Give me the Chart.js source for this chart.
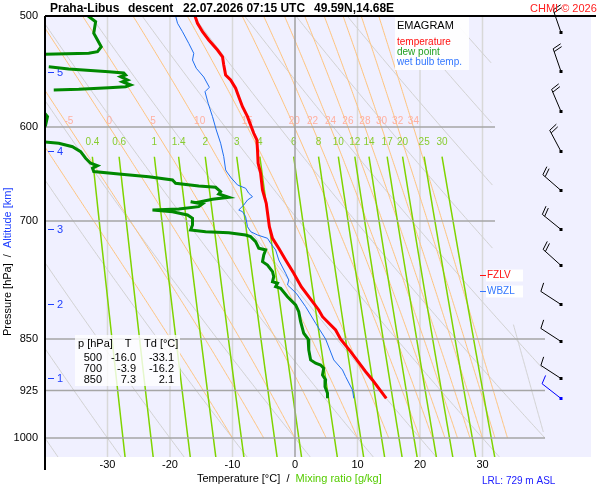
<!DOCTYPE html>
<html>
<head>
<meta charset="utf-8">
<script src="https://cdn.jsdelivr.net/npm/chart.js@4.4.1/dist/chart.umd.min.js"></script>
<style>
  html, body { margin: 0; padding: 0; background: #fff; }
  canvas { display: block; }
</style>
</head>
<body>
<canvas id="emagram" width="600" height="500"></canvas>
<script>
// descent sounding: pressure [hPa] and temperature [°C]
const tempP = [500, 506, 513.1, 520.1, 528.7, 534.6, 541.9, 550.9, 555.4, 563, 570.9, 580.3, 589.9, 598, 606.2, 612.9, 623.1, 636.8, 647.3, 665.4, 680, 706.7, 720.3, 732.2, 746.4, 762.9, 779.9, 799.3, 810.3, 819.3, 837.3, 850, 867.7, 896.7, 909, 936.8];
const tempT = [-16.0, -15.6, -14.8, -13.8, -12.4, -11.6, -11.4, -11.1, -10.3, -9.5, -9.0, -8.4, -7.6, -7.1, -6.6, -6.1, -6.0, -5.9, -5.5, -5.2, -4.6, -4.1, -3.6, -2.6, -1.5, -0.2, 1.0, 2.8, 3.8, 4.4, 6.5, 7.3, 8.9, 11.3, 12.4, 14.6];

const wetP = [500, 506, 513.1, 523, 531.6, 537.5, 544.8, 552.7, 562.1, 566.2, 577, 589.9, 602.9, 616.2, 629.9, 643.8, 646, 652.4, 659.9, 663.5, 669, 672.7, 676.4, 682, 687.6, 689.5, 695.2, 706.7, 712.5, 716.4, 720.3, 726.2, 734.2, 746.4, 762.9, 771.3, 777.7, 788.4, 805.9, 828.2, 850, 879.6, 894.2, 904.1, 924.1, 936.8];
const wetT = [-19.1, -18.8, -18.0, -17.0, -16.2, -16.4, -15.8, -14.6, -13.7, -14.4, -13.9, -13.2, -12.6, -11.9, -11.4, -11.1, -10.9, -10.2, -9.2, -7.9, -7.4, -6.8, -7.6, -8.2, -9.0, -8.4, -7.9, -7.6, -7.1, -6.0, -4.4, -3.9, -3.1, -2.6, -1.5, -1.0, -1.2, 0.2, 1.7, 3.3, 4.9, 6.2, 7.6, 8.1, 9.2, 9.4];

// null = no dew point drawn (too dry, off the diagram)
const dewP = [500, 504.7, 514.4, 520.1, 525.9, 530.2, 531.6, 532.5, 532.7, 537,
  543.4, 545.5, 547.9, 549.1, 550.9, 552.4, 555.4, 557, 560, 561.6, 562.5, 564, 564.6, 575,
  583.4, 589.9, 598, 606.2, 610,
  614.6, 616.2, 619.7, 624.8, 631.6, 636.8, 639.3, 642, 645.6, 648.1, 651, 654.5, 658.1, 661, 662.4,
  667.3, 669.8, 673.4, 675.6, 679.4, 678.3, 680.8, 683.8, 686.4, 687.6, 689.5, 693.2, 697, 704.7, 710.5,
  712.5, 713.7, 716.4, 718.4, 724.3, 732.2, 734.2, 740.3, 748.5, 752.6, 760.9, 767.2, 773.5, 775.5, 779.9,
  782, 792.8, 803.6, 812.6, 826, 841.9, 850, 865.3, 879.6, 884.4, 886.9, 891.7, 901.6, 909, 919.1, 929, 936.8];
const dewT = [-33.1, -31.9, -32.2, -31.6, -31.0, -31.6, -33.0, -40.0, -44, null,
  -39.4, -36.2, -29.8, -27.4, -27.1, -27.9, -26.8, -27.6, -26.3, -27.1, -29.8, -34.6, -38.6, null,
  -40.5, -39.6, -39.9, -40.5, null,
  -40.5, -37.8, -35.6, -34.3, -33.5, -32.7, -31.6, -32.4, -32.2, -28.2, -23.4, -19.6, -19.1, -15.4, -12.7,
  -11.9, -12.2, -10.6, -13.2, -15.9, -16.7, -14.8, -15.4, -18.6, -22.8, -19.6, -17.2, -16.4, -16.4, -16.7,
  -14.3, -10.6, -7.9, -7.1, -6.3, -5.8, -4.7, -5.0, -5.2, -4.4, -3.6, -3.4, -3.6, -2.8, -3.1,
  -2.3, -1.2, 0.1, 0.6, 0.9, 1.4, 2.1, 2.2, 2.5, 3.3, 4.1, 4.6, 4.4, 4.9, 4.8, 5.2, 5.2];

// wind: level [hPa], direction [deg], speed [kt]; last one is the surface (blue)
const windP = [513, 547, 584, 624, 665, 709, 753, 802, 853, 906, 937];
const windDir = [341, 341, 337, 332, 311, 309, 312, 303, 303, 303, 308];
const windKt = [20, 20, 20, 20, 20, 20, 20, 10, 10, 10, 10];

const tableP = [500, 700, 850];
const tableT = [-16.0, -3.9, 7.3];
const tableTd = [-33.1, -16.2, 2.1];

const altKm = [1, 2, 3, 4, 5];
const altP = [906, 802, 709, 624, 548];

const fzlvP = 765;
const wbzlP = 786;

// axes and diagram lines
const xTicks = [-30, -20, -10, 0, 10, 20, 30];
const yTicks = [500, 600, 700, 850, 925, 1000];
const isotherms = [-30, -20, -10, 10, 20, 30];
const isobars = [600, 700, 850, 925, 1000];
const dryTheta = [-40, -30, -20, -10, 0, 10, 20, 30, 40, 50, 60, 70, 80, 90, 100];
const moistThetaW = [-10, -5, 0, 5, 10, 15, 20, 22, 24, 26, 28, 30, 32, 34];
const mixRatio = [0.4, 0.6, 1, 1.4, 2, 3, 4, 6, 8, 10, 12, 14, 17, 20, 25, 30];

const P_TOP = 500, P_BOT = 1031.6, T_LEFT = -40, T_RIGHT = 47.36;
const FONT = '"Liberation Sans", Arial, sans-serif';

// ---- thermodynamics for the background lines ----
function es(tc) { return 6.112 * Math.exp(17.67 * tc / (tc + 243.5)); }
function dTdp(p, tk) {
  const e = es(tk - 273.15);
  const rs = 0.622 * e / (p - e);
  const Lv = 2.501e6, Rd = 287.04, cp = 1005.7;
  return (Rd * tk + Lv * rs) / (cp + Lv * Lv * rs * 0.622 / (Rd * tk * tk)) / p;
}
function moistCurve(thw, pFrom, pTo) {
  const pts = [];
  let t = thw + 273.15, p = 1000;
  const h = -2;
  // go down first if needed (not used below 1000 here)
  while (p > pTo + 0.5) {
    if (p <= pFrom) pts.push([t - 273.15, p]);
    const k1 = dTdp(p, t), k2 = dTdp(p + h / 2, t + h / 2 * k1),
          k3 = dTdp(p + h / 2, t + h / 2 * k2), k4 = dTdp(p + h, t + h * k3);
    t += h / 6 * (k1 + 2 * k2 + 2 * k3 + k4);
    p += h;
  }
  pts.push([t - 273.15, p]);
  return pts;
}
function dryCurve(th) {
  const pts = [];
  for (let p = P_TOP; p <= P_BOT + 2; p += 4) pts.push([(th + 273.15) * Math.pow(p / 1000, 0.2857) - 273.15, p]);
  return pts;
}
function mixT(w, p) {
  const l = Math.log(w * p / (622 + w) / 6.112);
  return 243.5 * l / (17.67 - l);
}
function tLimit(p) { return p < 820 ? 32 : 40; }

function strokeCurve(ctx, xs, ys, pts) {
  ctx.beginPath();
  let pen = false;
  for (const [t, p] of pts) {
    if (t > tLimit(p)) { pen = false; continue; }
    const px = xs.getPixelForValue(t), py = ys.getPixelForValue(p);
    if (pen) ctx.lineTo(px, py); else { ctx.moveTo(px, py); pen = true; }
  }
  ctx.stroke();
}

function drawBarb(ctx, x0, y0, dir, kt, color) {
  const a = dir * Math.PI / 180;
  const ux = Math.sin(a), uy = -Math.cos(a);
  const L = 24, tx = x0 + ux * L, ty = y0 + uy * L;
  const lean = 15 * Math.PI / 180;
  const bx = -uy * Math.cos(lean) + ux * Math.sin(lean);
  const by = ux * Math.cos(lean) + uy * Math.sin(lean);
  ctx.strokeStyle = color; ctx.fillStyle = color; ctx.lineWidth = 1;
  ctx.beginPath();
  ctx.moveTo(x0, y0); ctx.lineTo(tx, ty);
  let off = 0;
  for (let i = 0; i < Math.round(kt / 10); i++) {
    const sx = tx - ux * off, sy = ty - uy * off;
    ctx.moveTo(sx, sy); ctx.lineTo(sx + bx * 9, sy + by * 9);
    off += 3;
  }
  ctx.stroke();
  ctx.fillRect(x0 - 1.5, y0 - 1.5, 3, 3);
}

const emagramPlugin = {
  id: 'emagram',
  beforeDraw(chart) {
    const { ctx, chartArea: a } = chart;
    ctx.save();
    ctx.fillStyle = '#f0f0ff';
    ctx.fillRect(a.left, a.top, a.right - a.left, a.bottom - a.top);
    ctx.restore();
  },
  beforeDatasetsDraw(chart) {
    const { ctx, chartArea: a, scales: { x, y } } = chart;
    ctx.save();
    ctx.beginPath(); ctx.rect(a.left, a.top, a.right - a.left, a.bottom - a.top); ctx.clip();

    ctx.strokeStyle = '#d8d8d8'; ctx.lineWidth = 1.5;
    isotherms.forEach(t => {
      ctx.beginPath(); ctx.moveTo(x.getPixelForValue(t), a.top); ctx.lineTo(x.getPixelForValue(t), a.bottom); ctx.stroke();
    });

    ctx.strokeStyle = '#d2d2d2'; ctx.lineWidth = 1;
    dryTheta.forEach(th => strokeCurve(ctx, x, y, dryCurve(th)));
    strokeCurve(ctx, x, y, moistCurve(40, 990, 830));

    ctx.strokeStyle = '#ffc47e'; ctx.lineWidth = 1;
    ctx.fillStyle = '#ffb0a0'; ctx.font = '10px ' + FONT;
    ctx.textAlign = 'center'; ctx.textBaseline = 'middle';
    moistThetaW.forEach(thw => {
      const pts = moistCurve(thw, 1000, P_TOP);
      strokeCurve(ctx, x, y, pts);
      const at600 = pts.find(q => Math.abs(q[1] - 600) < 0.5);
      if (at600 && at600[0] > T_LEFT + 2) {
        ctx.fillText(String(thw), x.getPixelForValue(at600[0]), y.getPixelForValue(600) - 6);
      }
    });

    ctx.strokeStyle = '#7fd400'; ctx.lineWidth = 1.5;
    ctx.fillStyle = '#88cc30';
    mixRatio.forEach(w => {
      const pts = [];
      for (let p = 630; p <= P_BOT + 4; p += 6) pts.push([mixT(w, p), p]);
      strokeCurve(ctx, x, y, pts);
      ctx.fillText(String(w), x.getPixelForValue(mixT(w, 630)), y.getPixelForValue(630) - 14);
    });

    ctx.strokeStyle = '#a6a6a6'; ctx.lineWidth = 1.5;
    isobars.forEach(p => {
      const py = y.getPixelForValue(p);
      ctx.beginPath(); ctx.moveTo(a.left, py); ctx.lineTo(x.getPixelForValue(tLimit(p)), py); ctx.stroke();
    });
    ctx.strokeStyle = '#a0a0a0';
    ctx.beginPath(); ctx.moveTo(x.getPixelForValue(0), a.top); ctx.lineTo(x.getPixelForValue(0), a.bottom); ctx.stroke();

    // altitude marks
    ctx.strokeStyle = '#2040ff'; ctx.fillStyle = '#2040ff'; ctx.lineWidth = 1;
    ctx.font = '11px ' + FONT; ctx.textAlign = 'left';
    altKm.forEach((km, i) => {
      const py = Math.round(y.getPixelForValue(altP[i])) + 0.5;
      ctx.beginPath(); ctx.moveTo(a.left + 3, py); ctx.lineTo(a.left + 9, py); ctx.stroke();
      ctx.fillText(String(km), a.left + 12, py);
    });
    ctx.restore();
  },
  afterDatasetsDraw(chart) {
    const { ctx, chartArea: a, scales: { x, y } } = chart;
    ctx.save();
    ctx.textBaseline = 'middle';

    // legend box
    ctx.fillStyle = 'rgba(255,255,255,0.92)';
    ctx.fillRect(395, 17, 74, 53);
    ctx.textAlign = 'left';
    ctx.font = '11px ' + FONT; ctx.fillStyle = '#000';
    ctx.fillText('EMAGRAM', 397, 26);
    ctx.font = '10px ' + FONT;
    ctx.fillStyle = '#ff1010'; ctx.fillText('temperature', 397, 42);
    ctx.fillStyle = '#22a022'; ctx.fillText('dew point', 397, 52);
    ctx.fillStyle = '#3377ff'; ctx.fillText('wet bulb temp.', 397, 62);

    // values table
    ctx.fillStyle = 'rgba(255,255,255,0.8)';
    ctx.fillRect(75, 335, 105, 51);
    ctx.fillStyle = '#000'; ctx.font = '11px ' + FONT;
    ctx.fillText('p [hPa]', 78, 344);
    ctx.textAlign = 'center'; ctx.fillText('T', 128, 344);
    ctx.textAlign = 'left'; ctx.fillText('Td [°C]', 144, 344);
    ctx.textAlign = 'right';
    tableP.forEach((p, i) => {
      const ty = 358 + i * 11;
      ctx.fillText(String(p), 102, ty);
      ctx.fillText(tableT[i].toFixed(1), 136, ty);
      ctx.fillText(tableTd[i].toFixed(1), 174, ty);
    });

    // freezing and wet-bulb zero levels
    ctx.font = '10px ' + FONT; ctx.textAlign = 'left';
    [[fzlvP, 'FZLV', '#ff1010'], [wbzlP, 'WBZL', '#3377ff']].forEach(([p, txt, col]) => {
      const py = Math.round(y.getPixelForValue(p)) + 0.5;
      ctx.fillStyle = 'rgba(255,255,255,0.95)';
      ctx.fillRect(486, py - 6, 37, 12);
      ctx.strokeStyle = col; ctx.lineWidth = 1;
      ctx.beginPath(); ctx.moveTo(480, py); ctx.lineTo(486, py); ctx.stroke();
      ctx.fillStyle = col; ctx.fillText(txt, 487, py);
    });

    // wind barbs
    windP.forEach((p, i) => {
      const col = i === windP.length - 1 ? '#0000ff' : '#000';
      drawBarb(ctx, a.right - 30, Math.round(y.getPixelForValue(p)) + 0.5, windDir[i], windKt[i], col);
    });
    ctx.restore();
  },
  afterDraw(chart) {
    const { ctx, chartArea: a } = chart;
    ctx.save();
    ctx.strokeStyle = '#000'; ctx.lineWidth = 2;
    ctx.beginPath();
    ctx.moveTo(a.left, a.top); ctx.lineTo(596, a.top);
    ctx.moveTo(a.left, a.top); ctx.lineTo(a.left, 470);
    ctx.stroke();

    ctx.textBaseline = 'alphabetic'; ctx.textAlign = 'left';
    ctx.font = 'bold 12px ' + FONT; ctx.fillStyle = '#000';
    ctx.fillText('Praha-Libus', 50, 12);
    ctx.fillText('descent', 128, 12);
    ctx.fillText('22.07.2026 07:15 UTC', 183, 12);
    ctx.fillText('49.59N,14.68E', 314, 12);
    ctx.font = '11px ' + FONT; ctx.fillStyle = '#ff2020';
    ctx.fillText('CHMI © 2026', 530, 12);

    // axis titles
    ctx.textBaseline = 'middle';
    ctx.fillStyle = '#000';
    const xt = 'Temperature [°C]  /  ';
    ctx.fillText(xt, 197, 479);
    ctx.fillStyle = '#55cc00';
    ctx.fillText('Mixing ratio [g/kg]', 197 + ctx.measureText(xt).width, 479);

    ctx.save();
    ctx.translate(8, 336); ctx.rotate(-Math.PI / 2);
    const yt = 'Pressure [hPa]  /  ';
    ctx.fillStyle = '#000'; ctx.fillText(yt, 0, 0);
    ctx.fillStyle = '#2040ff'; ctx.fillText('Altitude [km]', ctx.measureText(yt).width, 0);
    ctx.restore();

    ctx.font = '10px ' + FONT; ctx.fillStyle = '#2020ff';
    ctx.fillText('LRL: 729 m ASL', 482, 481);
    ctx.restore();
  }
};

function pts(ps, ts) { return ps.map((p, i) => ({ x: ts[i] === null ? NaN : ts[i], y: p })); }

Chart.defaults.font.family = FONT;
Chart.defaults.color = '#000';

new Chart(document.getElementById('emagram'), {
  type: 'scatter',
  data: {
    datasets: [
      { label: 'temperature', data: pts(tempP, tempT), borderColor: '#ff0000', borderWidth: 3, order: 1 },
      { label: 'dew point', data: pts(dewP, dewT), borderColor: '#008800', borderWidth: 3, order: 2 },
      { label: 'wet bulb temp.', data: pts(wetP, wetT), borderColor: '#1f6ff0', borderWidth: 1, order: 3 }
    ].map(d => Object.assign(d, { showLine: true, pointRadius: 0, pointHoverRadius: 0, tension: 0, spanGaps: false, fill: false }))
  },
  options: {
    responsive: false,
    animation: false,
    events: [],
    layout: { padding: { left: 0, top: 16, right: 9, bottom: 0 } },
    plugins: { legend: { display: false }, tooltip: { enabled: false }, title: { display: false } },
    scales: {
      x: {
        type: 'linear', min: T_LEFT, max: T_RIGHT,
        grid: { display: false, drawTicks: false }, border: { display: false },
        afterBuildTicks: s => { s.ticks = xTicks.map(v => ({ value: v })); },
        afterFit: s => { s.height = 43; },
        ticks: { autoSkip: false, maxRotation: 0, padding: 1, font: { size: 11 }, callback: v => String(v) }
      },
      y: {
        type: 'logarithmic', reverse: true, min: P_TOP, max: P_BOT,
        grid: { display: false, drawTicks: false }, border: { display: false },
        afterBuildTicks: s => { s.ticks = yTicks.map(v => ({ value: v })); },
        afterFit: s => { s.width = 45; },
        ticks: { autoSkip: false, padding: 7, font: { size: 11 }, callback: v => String(v) }
      }
    }
  },
  plugins: [emagramPlugin]
});
</script>
</body>
</html>
